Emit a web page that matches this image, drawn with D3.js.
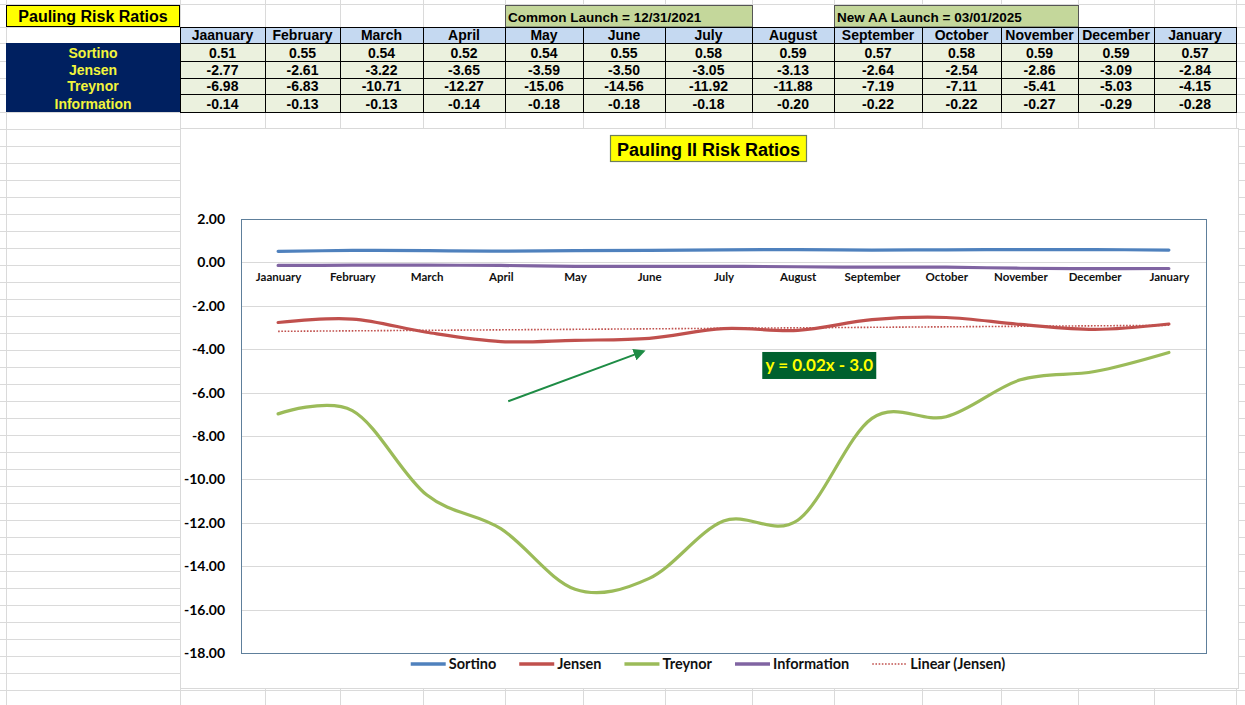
<!DOCTYPE html>
<html>
<head>
    <title>Pauling II Risk Ratios</title>
    <script src="https://cdnjs.cloudflare.com/ajax/libs/d3/7.8.5/d3.min.js"></script>
    <style>
        body {
            margin: 0;
            padding: 0;
            background: white;
            font-family: "Liberation Sans", Arial, sans-serif;
        }
        svg { display: block; }
    </style>
</head>
<body>
    <svg id="sheet" width="1245" height="705"></svg>

    <script>
        // Data read from the sheet
        const months = ['Jaanuary', 'February', 'March', 'April', 'May', 'June', 'July',
            'August', 'September', 'October', 'November', 'December', 'January'];
        const sortino = [0.51, 0.55, 0.54, 0.52, 0.54, 0.55, 0.58, 0.59, 0.57, 0.58, 0.59, 0.59, 0.57];
        const jensen = [-2.77, -2.61, -3.22, -3.65, -3.59, -3.50, -3.05, -3.13, -2.64, -2.54, -2.86, -3.09, -2.84];
        const treynor = [-6.98, -6.83, -10.71, -12.27, -15.06, -14.56, -11.92, -11.88, -7.19, -7.11, -5.41, -5.03, -4.15];
        const information = [-0.14, -0.13, -0.13, -0.14, -0.18, -0.18, -0.18, -0.20, -0.22, -0.22, -0.27, -0.29, -0.28];
        const seriesNames = ['Sortino', 'Jensen', 'Treynor', 'Information'];
        const seriesColors = ['#4F81BD', '#C0504D', '#9BBB59', '#8064A2'];
        const seriesValues = [sortino, jensen, treynor, information];
        const launchNotes = ['Common Launch = 12/31/2021', 'New AA Launch = 03/01/2025'];
        const trendLabel = 'y = 0.02x - 3.0';

        const svg = d3.select('#sheet');

        // ---- spreadsheet grid ----
        const colEdges = [6, 180, 265, 340, 423, 505, 583, 665, 752, 834, 922, 1001, 1078, 1154, 1236];
        const rowEdges = [4, 27, 43, 61, 78, 94, 111.5];
        for (let y = 128.5; y < 705; y += 17) rowEdges.push(y);

        const grid = svg.append('g').attr('stroke', '#DADADA').attr('stroke-width', 1);
        colEdges.forEach(x => grid.append('line')
            .attr('x1', x + 0.5).attr('x2', x + 0.5).attr('y1', 0).attr('y2', 705));
        rowEdges.forEach(y => grid.append('line')
            .attr('x1', 0).attr('x2', 1245).attr('y1', Math.round(y) + 0.5).attr('y2', Math.round(y) + 0.5));

        // ---- table ----
        const table = svg.append('g');
        const rowTop = [27, 43, 61, 78, 94, 112];

        // title cell
        table.append('rect')
            .attr('x', 6.5).attr('y', 5.5).attr('width', 173).attr('height', 21)
            .attr('fill', '#FFFF00').attr('stroke', '#000');
        table.append('text')
            .attr('x', 93).attr('y', 22)
            .attr('text-anchor', 'middle')
            .attr('font-size', 16).attr('font-weight', 'bold')
            .text('Pauling Risk Ratios');

        // launch notes
        const noteCols = [[505, 752], [834, 1078]];
        launchNotes.forEach((note, i) => {
            const [x0, x1] = noteCols[i];
            table.append('rect')
                .attr('x', x0 + 0.5).attr('y', 5.5).attr('width', x1 - x0).attr('height', 21.5)
                .attr('fill', '#C4D79B').attr('stroke', '#555');
            table.append('text')
                .attr('x', x0 + 3).attr('y', 22)
                .attr('font-size', 13.5).attr('font-weight', 'bold')
                .text(note);
        });

        // header row
        months.forEach((m, i) => {
            const x0 = colEdges[i + 1], x1 = colEdges[i + 2];
            table.append('rect')
                .attr('x', x0 + 0.5).attr('y', rowTop[0] + 0.5)
                .attr('width', x1 - x0).attr('height', rowTop[1] - rowTop[0])
                .attr('fill', '#C5D9F1').attr('stroke', '#000');
            table.append('text')
                .attr('x', (x0 + x1) / 2).attr('y', rowTop[1] - 3)
                .attr('text-anchor', 'middle')
                .attr('font-size', 14).attr('font-weight', 'bold')
                .text(m);
        });

        // label column + values
        table.append('rect')
            .attr('x', 6).attr('y', rowTop[1]).attr('width', 174).attr('height', rowTop[5] - rowTop[1])
            .attr('fill', '#002060');
        seriesValues.forEach((vals, r) => {
            const y0 = rowTop[r + 1], y1 = rowTop[r + 2];
            table.append('text')
                .attr('x', 93).attr('y', y1 - 3.5)
                .attr('text-anchor', 'middle')
                .attr('font-size', 14).attr('font-weight', 'bold')
                .attr('fill', '#F2F43C')
                .text(seriesNames[r]);
            vals.forEach((v, i) => {
                const x0 = colEdges[i + 1], x1 = colEdges[i + 2];
                table.append('rect')
                    .attr('x', x0 + 0.5).attr('y', y0 + 0.5)
                    .attr('width', x1 - x0).attr('height', y1 - y0)
                    .attr('fill', '#EBF1DE').attr('stroke', '#000');
                table.append('text')
                    .attr('x', (x0 + x1) / 2).attr('y', y1 - 3.5)
                    .attr('text-anchor', 'middle')
                    .attr('font-size', 14).attr('font-weight', 'bold')
                    .text(d3.format('.2f')(v).replace('−', '-'));
            });
        });

        // ---- chart ----
        const chart = svg.append('g');
        chart.append('rect')
            .attr('x', 180.5).attr('y', 128.5).attr('width', 1058).attr('height', 560)
            .attr('fill', 'white').attr('stroke', '#D9D9D9');

        // chart title
        chart.append('rect')
            .attr('x', 610.5).attr('y', 135.5).attr('width', 196).attr('height', 26)
            .attr('fill', '#FFFF00').attr('stroke', '#6E7F5A').attr('stroke-width', 1.2);
        chart.append('text')
            .attr('x', 708.5).attr('y', 155.5)
            .attr('text-anchor', 'middle')
            .attr('font-size', 18).attr('font-weight', 'bold')
            .text('Pauling II Risk Ratios');

        const plot = { left: 241, top: 219, right: 1206, bottom: 653 };
        const x = d3.scalePoint()
            .domain(d3.range(months.length))
            .range([plot.left, plot.right])
            .padding(0.5);
        const y = d3.scaleLinear()
            .domain([-18, 2])
            .range([plot.bottom, plot.top]);

        // gridlines
        chart.append('g')
            .selectAll('line')
            .data(y.ticks(10))
            .join('line')
            .attr('x1', plot.left).attr('x2', plot.right)
            .attr('y1', d => Math.round(y(d)) + 0.5).attr('y2', d => Math.round(y(d)) + 0.5)
            .attr('stroke', '#D9D9D9');

        // y axis labels
        const yAxis = chart.append('g')
            .attr('transform', `translate(${plot.left - 16},0)`)
            .call(d3.axisLeft(y).ticks(10).tickSize(0).tickPadding(0)
                .tickFormat(d => d3.format('.2f')(d).replace('−', '-')));
        yAxis.select('.domain').remove();
        yAxis.selectAll('text')
            .attr('font-family', 'Lato, "Open Sans", sans-serif')
            .attr('font-size', 14).attr('font-weight', 'bold')
            .attr('fill', '#000');

        // category labels under the zero line
        const xAxis = chart.append('g')
            .attr('transform', `translate(0,${y(0) + 10})`)
            .call(d3.axisBottom(x).tickSize(0).tickPadding(0).tickFormat(i => months[i]));
        xAxis.select('.domain').remove();
        xAxis.selectAll('text')
            .attr('font-family', 'Lato, "Open Sans", sans-serif')
            .attr('font-size', 11.5).attr('font-weight', 'bold')
            .attr('fill', '#111');

        // plot frame
        chart.append('rect')
            .attr('x', plot.left + 0.5).attr('y', plot.top + 0.5)
            .attr('width', plot.right - plot.left).attr('height', plot.bottom - plot.top)
            .attr('fill', 'none').attr('stroke', '#5E7F9B');

        // linear trendline for Jensen (least squares on x = 1..n)
        const xs = d3.range(1, jensen.length + 1);
        const mx = d3.mean(xs), my = d3.mean(jensen);
        const slope = d3.sum(xs, (d, i) => (d - mx) * (jensen[i] - my)) / d3.sum(xs, d => (d - mx) ** 2);
        const intercept = my - slope * mx;
        chart.append('line')
            .attr('x1', x(0)).attr('y1', y(slope * 1 + intercept))
            .attr('x2', x(jensen.length - 1)).attr('y2', y(slope * jensen.length + intercept))
            .attr('stroke', '#C0504D').attr('stroke-width', 1.6)
            .attr('stroke-dasharray', '1.6,1.6');

        // series lines, smoothed like the spreadsheet
        const line = d3.line()
            .x((d, i) => x(i))
            .y(d => y(d))
            .curve(d3.curveCardinal.tension(0));

        seriesValues.forEach((vals, k) => {
            chart.append('path')
                .datum(vals)
                .attr('d', line)
                .attr('fill', 'none')
                .attr('stroke', seriesColors[k])
                .attr('stroke-width', 3.2)
                .attr('stroke-linecap', 'round');
        });

        // annotation arrow pointing at the trend
        const arrowFrom = [3.1, -6.4], arrowTo = [4.92, -4.1];
        const defs = svg.append('defs');
        defs.append('marker')
            .attr('id', 'head')
            .attr('viewBox', '0 0 10 10')
            .attr('refX', 8).attr('refY', 5)
            .attr('markerWidth', 6).attr('markerHeight', 6)
            .attr('orient', 'auto')
            .append('path')
            .attr('d', 'M0,0L10,5L0,10z')
            .attr('fill', '#1E8C45');
        const step = x.step();
        const xAt = v => x(0) + v * step;
        chart.append('line')
            .attr('x1', xAt(arrowFrom[0])).attr('y1', y(arrowFrom[1]))
            .attr('x2', xAt(arrowTo[0])).attr('y2', y(arrowTo[1]))
            .attr('stroke', '#1E8C45').attr('stroke-width', 2)
            .attr('marker-end', 'url(#head)');

        // trend equation label
        const eqAt = [7.29, -4.75];
        const eq = chart.append('g')
            .attr('transform', `translate(${xAt(eqAt[0])},${y(eqAt[1])})`);
        eq.append('rect')
            .attr('x', -57).attr('y', -13.5).attr('width', 114).attr('height', 27)
            .attr('fill', '#00612E');
        eq.append('text')
            .attr('x', 0).attr('y', 6)
            .attr('text-anchor', 'middle')
            .attr('font-family', 'Lato, "Open Sans", sans-serif')
            .attr('font-size', 17).attr('font-weight', 'bold')
            .attr('fill', '#FFFF00')
            .text(trendLabel);

        // legend
        const legendItems = seriesNames.map((n, i) => ({ name: n, color: seriesColors[i], dotted: false }))
            .concat([{ name: 'Linear (Jensen)', color: '#C0504D', dotted: true }]);
        const legend = chart.append('g');
        let lx = 0;
        legendItems.forEach(d => {
            const g = legend.append('g');
            g.append('line')
                .attr('x1', 0).attr('x2', 35).attr('y1', 0).attr('y2', 0)
                .attr('stroke', d.color)
                .attr('stroke-width', d.dotted ? 1.6 : 3.5)
                .attr('stroke-dasharray', d.dotted ? '1.6,1.6' : null);
            const t = g.append('text')
                .attr('x', 38).attr('y', 5)
                .attr('font-family', 'Lato, "Open Sans", sans-serif')
                .attr('font-size', 14.5).attr('font-weight', 'bold')
                .attr('fill', '#111')
                .text(d.name);
            const w = 38 + t.node().getComputedTextLength();
            g.attr('transform', `translate(${lx},0)`);
            lx += w + 23;
        });
        const legendWidth = lx - 23;
        legend.attr('transform', `translate(${708 - legendWidth / 2},664)`);
    </script>
</body>
</html>
